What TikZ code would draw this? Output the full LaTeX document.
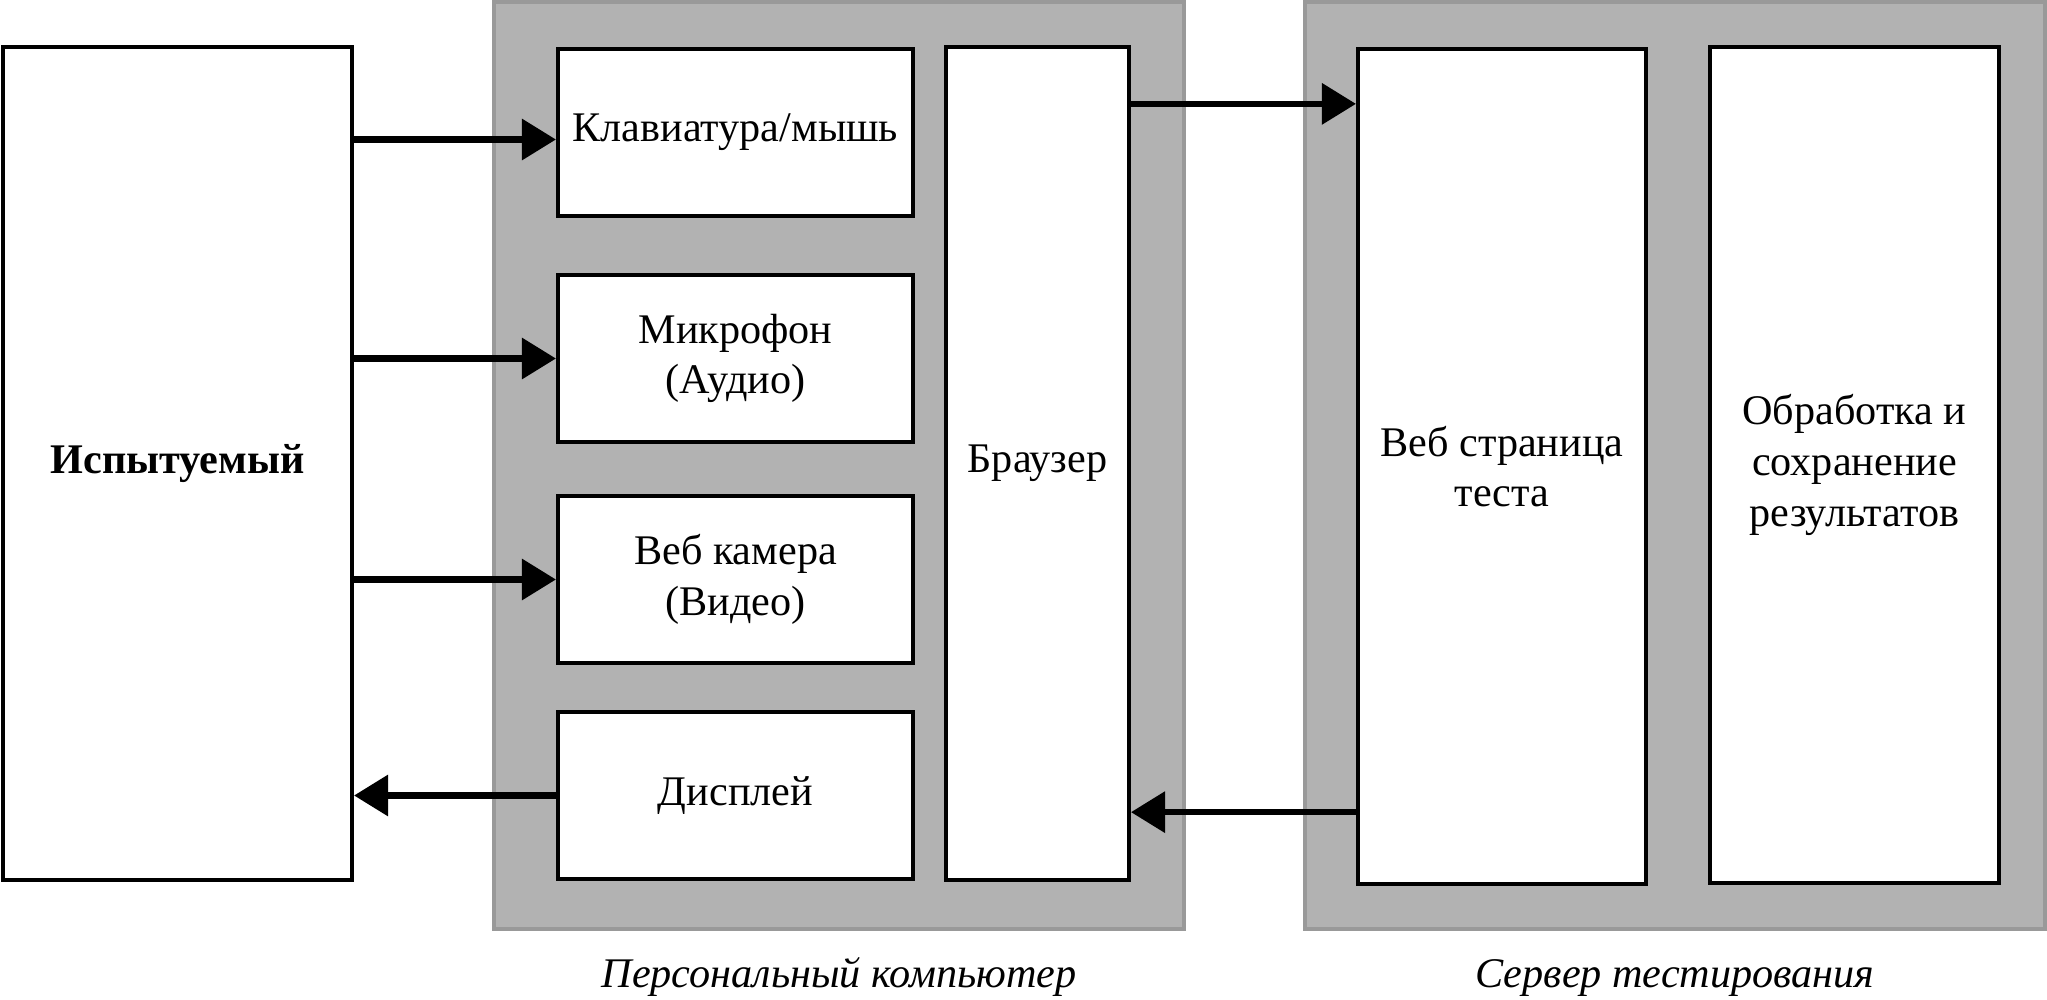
\documentclass[tikz,border=0pt]{standalone}
\usepackage{fontspec}
\setmainfont{Liberation Serif}
\usetikzlibrary{positioning, calc, arrows.meta}

\tikzset{
  blok/.style={draw, line width=1.1pt, fill=white, align=center, inner sep=0pt,
    font=\fontsize{12}{14.4}\selectfont},
  panel/.style={draw=black!40, line width=1.1pt, fill=black!30, inner sep=0pt},
  strelka/.style={line width=1.8pt, -{Triangle[length=0.34cm,width=0.40cm]}},
  podpis/.style={font=\fontsize{12}{14.4}\selectfont\itshape, inner sep=0pt, anchor=base},
}

\begin{document}
\begin{tikzpicture}[x=0.01cm,y=-0.01cm,node distance=0.5cm]
\useasboundingbox (0,0) rectangle (2047,999);
% panels
\node [panel, minimum width=6.90cm, minimum height=9.27cm] (pc)  at (839,465.5)  {};
\node [panel, minimum width=7.40cm, minimum height=9.27cm] (srv) at (1675,465.5) {};
\node [podpis] (pcl)  at ($(pc.south)+(0,56)$)  {Персональный компьютер};
\node [podpis] (srvl) at ($(srv.south)+(0,56)$) {Сервер тестирования};
% subject
\node [blok, minimum width=3.485cm, minimum height=8.33cm] (subj) at (177.75,463.5) {\bfseries Испытуемый};
% personal computer
\node [blok, minimum width=3.55cm, minimum height=1.67cm] (kbd) at (735.5,132.5) {Клавиатура/мышь};
\node [blok, minimum width=3.55cm, minimum height=1.67cm, below=0.55cm of kbd] (mic) {Микрофон\\(Аудио)};
\node [blok, minimum width=3.55cm, minimum height=1.67cm, below=0.50cm of mic] (cam) {Веб камера\\(Видео)};
\node [blok, minimum width=3.55cm, minimum height=1.67cm, below=0.45cm of cam] (disp) {Дисплей};
\node [blok, minimum width=1.83cm, minimum height=8.33cm] (brw) at (1037.5,463.5) {Браузер};
% server
\node [blok, minimum width=2.88cm, minimum height=8.35cm] (page) at (1502,466.5) {Веб страница\\теста};
\node [blok, minimum width=2.89cm, minimum height=8.36cm] (res) at (1854.5,465) {Обработка и\\сохранение\\результатов};
% arrows
\draw [strelka] ($(subj.east |- kbd.west)+(0,7)$) -- ($(kbd.west)+(0,7)$);
\draw [strelka] (subj.east |- mic.west) -- (mic.west);
\draw [strelka] (subj.east |- cam.west) -- (cam.west);
\draw [strelka] (disp.west) -- (disp.west -| subj.east);
\draw [strelka] ([yshift=-0.59cm]brw.north east) coordinate (b1) -- (b1 -| page.west);
\draw [strelka] ([yshift=0.74cm]page.south west) coordinate (b2) -- (b2 -| brw.east);
\end{tikzpicture}
\end{document}
